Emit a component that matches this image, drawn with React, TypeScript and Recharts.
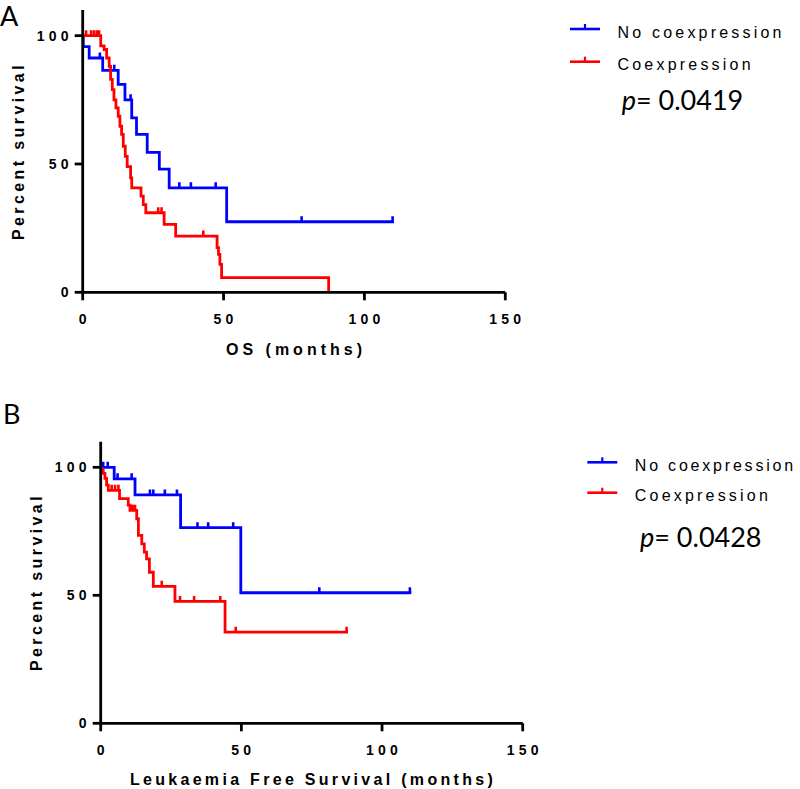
import React from 'react';
import { ComposedChart, Line, Scatter, XAxis, YAxis } from 'recharts';

// ---------- Panel A: Overall survival ----------
const osNoCoexTime = [0, 0.2, 2.3, 7.1, 12.6, 15, 17.4, 19.1, 22.9, 27.2, 30.7, 51.1, 110];
const osNoCoexSurv = [100, 95.7, 91.3, 86.5, 81, 75, 68, 61.5, 54.5, 48, 40.7, 27.5, 27.5];
const osNoCoexCensorTime = [6.1, 11.2, 17, 34.3, 38.4, 47.2, 77.7, 110];
const osNoCoexCensorSurv = [91.3, 86.5, 75, 40.7, 40.7, 40.7, 27.5, 27.5];

const osCoexTime = [0, 6.4, 7.6, 8.5, 9.4, 9.9, 10.5, 11.1, 11.8, 12.6, 13.2, 13.8, 14.4, 15.1, 15.8, 17, 17.4, 20.7, 21.5, 22.4, 28.9, 33, 47.7, 48.2, 48.7, 49.3, 87.3];
const osCoexSurv = [100, 96, 94.6, 91.3, 88, 83, 79, 75, 71.9, 68.6, 64.7, 61.5, 56.9, 53, 49, 44.6, 40.7, 37.5, 34.2, 31, 26.5, 21.9, 17.4, 14.8, 10.9, 5.7, 0];
const osCoexCensorTime = [1.2, 3, 4, 5, 5.8, 26.8, 28, 42.8];
const osCoexCensorSurv = [100, 100, 100, 100, 100, 31, 31, 21.9];

// ---------- Panel B: Leukaemia free survival ----------
const lfsNoCoexTime = [0, 4.8, 12.2, 28.4, 49.8, 109.9];
const lfsNoCoexSurv = [100, 95.5, 89.2, 76.4, 51, 51];
const lfsNoCoexCensorTime = [0.9, 2.5, 6, 11, 17.5, 18.7, 22.8, 27.1, 34.4, 38.2, 47.1, 77.7, 109.9];
const lfsNoCoexCensorSurv = [100, 100, 95.5, 95.5, 89.2, 89.2, 89.2, 89.2, 76.4, 76.4, 76.4, 51, 51];

const lfsCoexTime = [0, 0.35, 0.9, 1.5, 2.1, 2.7, 6.7, 9.8, 10.4, 12.8, 13.4, 14.6, 15.5, 16.3, 17.3, 18.7, 26.4, 44.2, 87.4];
const lfsCoexSurv = [100, 98.9, 97.6, 95.7, 93, 91, 87.8, 85.2, 83.2, 79.9, 73.4, 70.1, 66.9, 64.2, 59, 53.5, 47.6, 35.6, 35.6];
const lfsCoexCensorTime = [3.9, 5.1, 6.3, 11, 11.6, 12.2, 21.7, 28.2, 33.2, 42.5, 48, 87.4];
const lfsCoexCensorSurv = [91, 91, 91, 83.2, 83.2, 83.2, 53.5, 47.6, 47.6, 47.6, 35.6, 35.6];

const xTicks = [0, 50, 100, 150];
const yTicks = [0, 50, 100];
const legendLabels = ['No coexpression', 'Coexpression'];
const pValues = ['0.0419', '0.0428'];

const BLUE = '#0000ff';
const RED = '#ff0000';
const SANS = '"Liberation Sans", Arial, sans-serif';
const CAL = 'Lato, "Open Sans", sans-serif';
const LW = 2.8;

const zip = (t: number[], s: number[]) => t.map((v, i) => ({ t: v, s: s[i] }));

const censorShape = (color: string) => (props: any) => {
  const { cx, cy } = props;
  if (cx == null || cy == null) return <g />;
  return <line x1={cx} x2={cx} y1={cy} y2={cy - 5.5} stroke={color} strokeWidth={2.6} />;
};

const XTick = (props: any) => {
  const { x, y, payload } = props;
  return (
    <text x={x + 2} y={y + 22} textAnchor="middle" fontFamily={SANS} fontWeight="bold" fontSize={14} letterSpacing={4.2} fill="#000">
      {payload.value}
    </text>
  );
};

const YTick = (props: any) => {
  const { x, y, payload } = props;
  return (
    <text x={x} y={y} dy="0.36em" textAnchor="end" fontFamily={SANS} fontWeight="bold" fontSize={14} letterSpacing={4.2} fill="#000">
      {payload.value}
    </text>
  );
};

type Pt = { t: number; s: number };
type KMProps = {
  width: number;
  height: number;
  margin: { top: number; right: number; bottom: number; left: number };
  noCoex: Pt[];
  coex: Pt[];
  noCoexCensor: Pt[];
  coexCensor: Pt[];
};

const KMChart = ({ width, height, margin, noCoex, coex, noCoexCensor, coexCensor }: KMProps) => (
  <ComposedChart width={width} height={height} margin={margin}>
    <XAxis
      dataKey="t"
      type="number"
      domain={[0, 150]}
      ticks={xTicks}
      allowDataOverflow
      height={30}
      tickSize={8}
      tickMargin={2}
      axisLine={{ stroke: '#000', strokeWidth: LW }}
      tickLine={{ stroke: '#000', strokeWidth: LW }}
      tick={<XTick />}
      interval={0}
    />
    <YAxis
      dataKey="s"
      type="number"
      domain={[0, 110]}
      ticks={yTicks}
      allowDataOverflow
      width={60}
      tickSize={8}
      tickMargin={2}
      axisLine={{ stroke: '#000', strokeWidth: LW }}
      tickLine={{ stroke: '#000', strokeWidth: LW }}
      tick={<YTick />}
      interval={0}
    />
    <Line data={noCoex} dataKey="s" type="stepAfter" stroke={BLUE} strokeWidth={LW} dot={false} activeDot={false} isAnimationActive={false} strokeLinecap="square" />
    <Line data={coex} dataKey="s" type="stepAfter" stroke={RED} strokeWidth={LW} dot={false} activeDot={false} isAnimationActive={false} strokeLinecap="square" />
    <Scatter data={noCoexCensor} dataKey="s" shape={censorShape(BLUE)} isAnimationActive={false} />
    <Scatter data={coexCensor} dataKey="s" shape={censorShape(RED)} isAnimationActive={false} />
  </ComposedChart>
);

const LegendItem = ({ x, y, color, label, spacing }: { x: number; y: number; color: string; label: string; spacing: number }) => (
  <g>
    <line x1={x} x2={x + 30} y1={y} y2={y} stroke={color} strokeWidth={2.6} />
    <line x1={x + 15} x2={x + 15} y1={y} y2={y - 5} stroke={color} strokeWidth={2.2} />
    <text x={x + 47.5} y={y + 8.5} fontFamily={SANS} fontSize={16} letterSpacing={spacing} fill="#000">
      {label}
    </text>
  </g>
);

export default function App() {
  return (
    <div style={{ position: 'absolute', left: 0, top: 0, width: 800, height: 789, background: '#fff', overflow: 'hidden' }}>
      <div style={{ position: 'absolute', left: 0, top: 0 }}>
        <KMChart
          width={800}
          height={390}
          margin={{ top: 10, right: 294.7, bottom: 67.7, left: 22.7 }}
          noCoex={zip(osNoCoexTime, osNoCoexSurv)}
          coex={zip(osCoexTime, osCoexSurv)}
          noCoexCensor={zip(osNoCoexCensorTime, osNoCoexCensorSurv)}
          coexCensor={zip(osCoexCensorTime, osCoexCensorSurv)}
        />
      </div>
      <div style={{ position: 'absolute', left: 0, top: 390 }}>
        <KMChart
          width={800}
          height={399}
          margin={{ top: 51.7, right: 277.3, bottom: 35.7, left: 40.7 }}
          noCoex={zip(lfsNoCoexTime, lfsNoCoexSurv)}
          coex={zip(lfsCoexTime, lfsCoexSurv)}
          noCoexCensor={zip(lfsNoCoexCensorTime, lfsNoCoexCensorSurv)}
          coexCensor={zip(lfsCoexCensorTime, lfsCoexCensorSurv)}
        />
      </div>
      <svg width={800} height={789} style={{ position: 'absolute', left: 0, top: 0, pointerEvents: 'none' }}>
        {/* Panel A */}
        <text x={0} y={26} fontFamily={CAL} fontSize={27} fill="#000">A</text>
        <text x={0} y={0} transform="translate(18.5,151) rotate(-90)" textAnchor="middle" dominantBaseline="central" fontFamily={SANS} fontWeight="bold" fontSize={16} letterSpacing={3.4} fill="#000">Percent survival</text>
        <text x={296} y={355} textAnchor="middle" fontFamily={SANS} fontWeight="bold" fontSize={16} letterSpacing={4} fill="#000">OS (months)</text>
        <LegendItem x={570} y={29} color={BLUE} label={legendLabels[0]} spacing={3.2} />
        <LegendItem x={570} y={61.7} color={RED} label={legendLabels[1]} spacing={3.2} />
        <text x={621.7} y={110} fontFamily={CAL} fontSize={27} fill="#000">
          <tspan fontStyle="italic">p</tspan>= {pValues[0]}
        </text>
        {/* Panel B */}
        <text x={3} y={424} fontFamily={CAL} fontSize={27} fill="#000">B</text>
        <text x={0} y={0} transform="translate(36,582) rotate(-90)" textAnchor="middle" dominantBaseline="central" fontFamily={SANS} fontWeight="bold" fontSize={16} letterSpacing={3.4} fill="#000">Percent survival</text>
        <text x={313} y={785} textAnchor="middle" fontFamily={SANS} fontWeight="bold" fontSize={16} letterSpacing={3.3} fill="#000">Leukaemia Free Survival (months)</text>
        <LegendItem x={587.3} y={462.3} color={BLUE} label={legendLabels[0]} spacing={2.8} />
        <LegendItem x={587.3} y={492.7} color={RED} label={legendLabels[1]} spacing={3.2} />
        <text x={640} y={546.7} fontFamily={CAL} fontSize={27} fill="#000">
          <tspan fontStyle="italic">p</tspan>= {pValues[1]}
        </text>
      </svg>
    </div>
  );
}
